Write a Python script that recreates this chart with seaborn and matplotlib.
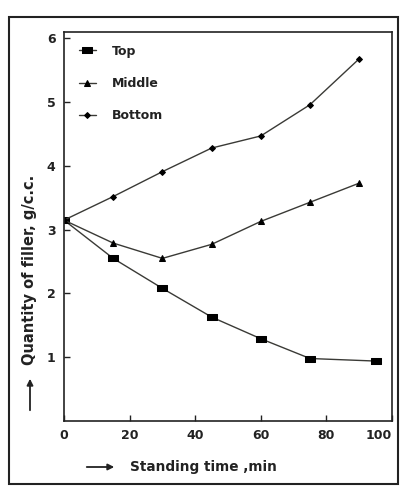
import matplotlib
matplotlib.use("Agg")
import matplotlib.pyplot as plt
import seaborn as sns
import pandas as pd
from matplotlib.patches import Rectangle

# ---- data ----
series_names = ["Top", "Middle", "Bottom"]
top_x = [0, 15, 30, 45, 60, 75, 95]
top_y = [3.15, 2.55, 2.08, 1.63, 1.29, 0.98, 0.94]
middle_x = [0, 15, 30, 45, 60, 75, 90]
middle_y = [3.15, 2.79, 2.55, 2.77, 3.13, 3.43, 3.73]
bottom_x = [0, 15, 30, 45, 60, 75, 90]
bottom_y = [3.15, 3.52, 3.91, 4.28, 4.47, 4.96, 5.68]
x_ticks = [0, 20, 40, 60, 80, 100]
y_ticks = [1, 2, 3, 4, 5, 6]
x_label = "Standing time ,min"
y_label = "Quantity of filler, g/c.c."

sns.set_theme(style="white")
plt.rcParams["font.family"] = ["DejaVu Sans"]

fig = plt.figure(figsize=(4.01, 4.91), dpi=100)
ax = fig.add_axes([64 / 401, 1 - 421 / 491, (392 - 64) / 401, (421 - 32) / 491])

rect_marker = [(-1.5, -1), (1.5, -1), (1.5, 1), (-1.5, 1), (-1.5, -1)]
styles = {
    "Top": dict(marker=rect_marker, markersize=6.5),
    "Middle": dict(marker="^", markersize=5),
    "Bottom": dict(marker="D", markersize=3),
}
data = {
    "Top": (top_x, top_y),
    "Middle": (middle_x, middle_y),
    "Bottom": (bottom_x, bottom_y),
}
line_color = "#3a3a36"
for name in series_names:
    xs, ys = data[name]
    df = pd.DataFrame({"x": xs, "y": ys})
    sns.lineplot(data=df, x="x", y="y", ax=ax, sort=False, color=line_color,
                 linewidth=1.0, markerfacecolor="black", markeredgecolor="black",
                 label=name, **styles[name])

ax.set_xlim(0, 100)
ax.set_ylim(0, 6.1)
ax.set_xticks(x_ticks)
ax.set_yticks(y_ticks)
ax.set_xlabel("")
ax.set_ylabel("")
for lbl in ax.get_xticklabels() + ax.get_yticklabels():
    lbl.set_fontweight("bold")
    lbl.set_fontsize(9)
    lbl.set_color("#222222")
ax.get_xticklabels()[-1].set_horizontalalignment("right")
ax.tick_params(axis="both", direction="in", length=4, width=1, color="#222222", pad=6)
ax.tick_params(axis="y", left=True)
ax.tick_params(axis="x", bottom=True)
for sp in ax.spines.values():
    sp.set_color("#222222")
    sp.set_linewidth(1.2)

leg = ax.legend(loc="upper left", frameon=False, fontsize=9, labelspacing=1.55,
                handlelength=1.3, handletextpad=1.3, borderaxespad=0.3,
                bbox_to_anchor=(0.02, 0.99))
for t in leg.get_texts():
    t.set_fontweight("bold")
    t.set_color("#222222")

# axis labels with arrows
fig.text(30 / 401, 1 - 270 / 491, y_label, rotation=90, ha="center", va="center",
         fontsize=10.5, fontweight="bold", color="#222222")
fig.patches.append(Rectangle((9 / 401, 1 - 484 / 491), (398 - 9) / 401, (484 - 17) / 491,
                             transform=fig.transFigure, fill=False,
                             edgecolor="#222222", linewidth=1.5))
ann_kw = dict(arrowprops=dict(arrowstyle="-|>", color="#222222", lw=1.3,
                              mutation_scale=9), xycoords="figure pixels",
              textcoords="figure pixels")
fig_h = 491
ax.annotate("", xy=(30, fig_h - 376), xytext=(30, fig_h - 413), **ann_kw)
ax.annotate("", xy=(117, fig_h - 467), xytext=(84, fig_h - 467), **ann_kw)
fig.text(130 / 401, 1 - 467 / 491, x_label, ha="left", va="center",
         fontsize=9.8, fontweight="bold", color="#222222")

fig.savefig("out.png", dpi=100)
